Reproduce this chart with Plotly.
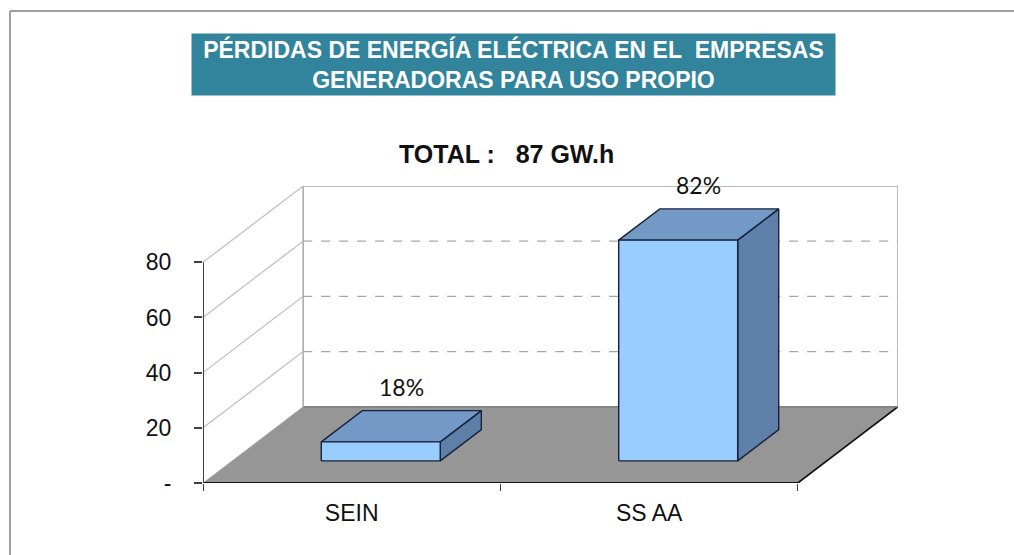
import plotly.graph_objects as go

# ---- data ----
categories = ["SEIN", "SS AA"]
values = [6.9, 80.0]          # bar heights as read against the front value axis
pct_labels = ["18%", "82%"]
y_tickvals = [0, 20, 40, 60, 80]
y_ticktext = ["-", "20", "40", "60", "80"]
title_lines = ["PÉRDIDAS DE ENERGÍA ELÉCTRICA EN EL\u00a0\u00a0EMPRESAS", "GENERADORAS PARA USO PROPIO"]
total_text = "TOTAL :\u00a0\u00a0\u00a087 GW.h"

# ---- oblique projection parameters (style) ----
DX = 0.3367      # x shift for full depth
DY = 27.64       # y shift for full depth
D0, D1 = 0.29, 0.70   # bar depth band
BW = 0.40        # bar width
YMAX = max(y_tickvals)
XMIN, XMAX = -0.5, len(categories) - 0.5

FRONT = "#99CCFF"
TOP = "#7399C6"
SIDE = "#5E80A8"
EDGE = "#18203A"
FLOOR = "#969696"

fig = go.Figure()

def poly(xs, ys, fill, line_color=EDGE, lw=1.4):
    fig.add_trace(go.Scatter(x=xs + [xs[0]], y=ys + [ys[0]], mode="lines", fill="toself",
                             fillcolor=fill, line=dict(color=line_color, width=lw),
                             hoverinfo="skip", showlegend=False))

def seg(xs, ys, color, width=1.3, dash=None):
    fig.add_trace(go.Scatter(x=xs, y=ys, mode="lines",
                             line=dict(color=color, width=width, dash=dash),
                             hoverinfo="skip", showlegend=False, cliponaxis=False))

# floor
poly([XMIN, XMAX, XMAX + DX, XMIN + DX], [0, 0, DY, DY], FLOOR, line_color=FLOOR, lw=0.5)
# floor edges
seg([XMIN, XMAX], [0, 0], "#111111", 1.8)
seg([XMAX, XMAX + DX], [0, DY], "#111111", 1.6)
seg([XMIN + DX, XMAX + DX], [DY, DY], "#7f7f7f", 1.3)

# back wall frame
seg([XMIN + DX, XMIN + DX], [DY, YMAX + DY], "#A6A6A6", 1.5)
seg([XMAX + DX, XMAX + DX], [DY, YMAX + DY], "#A6A6A6", 1.5)
seg([XMIN + DX, XMAX + DX], [YMAX + DY, YMAX + DY], "#A6A6A6", 1.5)
# back wall dashed gridlines & left wall diagonals
for v in y_tickvals[1:]:
    if v < YMAX:
        seg([XMIN + DX, XMAX + DX], [v + DY, v + DY], "#A6A6A6", 1.2, "dash")
    seg([XMIN, XMIN + DX], [v, v + DY], "#BDBDBD", 1.2)

# front value-axis line
seg([XMIN, XMIN], [0, YMAX], "#404040", 2)

# bars
dd = D1 - D0
for i, (c, h) in enumerate(zip(categories, values)):
    xl = i - BW / 2 + D0 * DX
    xr = i + BW / 2 + D0 * DX
    yb = D0 * DY
    yt = yb + h
    # side face
    poly([xr, xr + dd * DX, xr + dd * DX, xr], [yb, yb + dd * DY, yt + dd * DY, yt], SIDE)
    # top face
    poly([xl, xr, xr + dd * DX, xl + dd * DX], [yt, yt, yt + dd * DY, yt + dd * DY], TOP)
    # front face
    poly([xl, xr, xr, xl], [yb, yb, yt, yt], FRONT)

# body margin is removed in the page (post_script), so figure pixels == page pixels
W, H = 1014, 555
ML, MT = 203, 186
MR = W - 898
MB = H - 483
pw, ph = W - ML - MR, H - MT - MB

def px(xp):
    return (xp - ML) / pw

def py(yp):
    return (H - MB - yp) / ph

annotations = [
    dict(xref="paper", yref="paper", x=px(513.5), y=py(64.5), xanchor="center", yanchor="middle",
         text="<br>".join(title_lines), showarrow=False, align="center",
         width=643, height=61, bgcolor="#31849B", borderpad=0,
         font=dict(family="Arial, Liberation Sans", size=23, color="white", weight="bold")),
    dict(xref="paper", yref="paper", x=px(506.5), y=py(154), xanchor="center", yanchor="middle",
         text="<b>" + total_text + "</b>", showarrow=False,
         font=dict(family="Arial, Liberation Sans", size=25, color="#111111")),
]
# percentage labels above each bar
for i, (h, t) in enumerate(zip(values, pct_labels)):
    annotations.append(dict(
        x=i + (D0 + D1) / 2 * DX, y=D0 * DY + h + dd * DY, xref="x", yref="y",
        text=t, showarrow=False, xanchor="center", yanchor="middle", yshift=24,
        font=dict(family="Lato, Open Sans, sans-serif", size=23, color="#111111")))

frame = dict(color="#A0A0A0", width=2)
fig.update_layout(
    width=W, height=H,
    margin=dict(l=ML, r=MR, t=MT, b=MB, pad=0),
    paper_bgcolor="white", plot_bgcolor="white",
    showlegend=False,
    xaxis=dict(range=[XMIN, XMAX + DX], tickvals=list(range(len(categories))), ticktext=categories,
               ticks="", showgrid=False, zeroline=False, showline=False,
               tickfont=dict(family="Arial, Liberation Sans", size=23, color="#111111"),
               ticklabelstandoff=14,
               minor=dict(tick0=-0.5, dtick=1, ticks="outside", ticklen=7, tickcolor="#404040",
                          tickwidth=1.3, showgrid=False),
               fixedrange=True),
    yaxis=dict(range=[0, YMAX + DY], tickvals=y_tickvals, ticktext=y_ticktext,
               ticks="outside", ticklen=8, tickcolor="#404040", tickwidth=1.5,
               showgrid=False, zeroline=False, showline=False,
               tickfont=dict(family="Arial, Liberation Sans", size=23, color="#111111"),
               ticklabelstandoff=18, fixedrange=True),
    shapes=[
        dict(type="line", xref="paper", yref="paper", x0=px(10), x1=px(1100), y0=py(11), y1=py(11),
             line=frame, layer="below"),
        dict(type="line", xref="paper", yref="paper", x0=px(10), x1=px(10), y0=py(11), y1=py(700),
             line=frame, layer="below"),
    ],
    annotations=annotations,
)

fig.write_html("out.html", config={"displayModeBar": False},
               post_script="document.body.style.margin='0';document.body.style.overflow='hidden';")
